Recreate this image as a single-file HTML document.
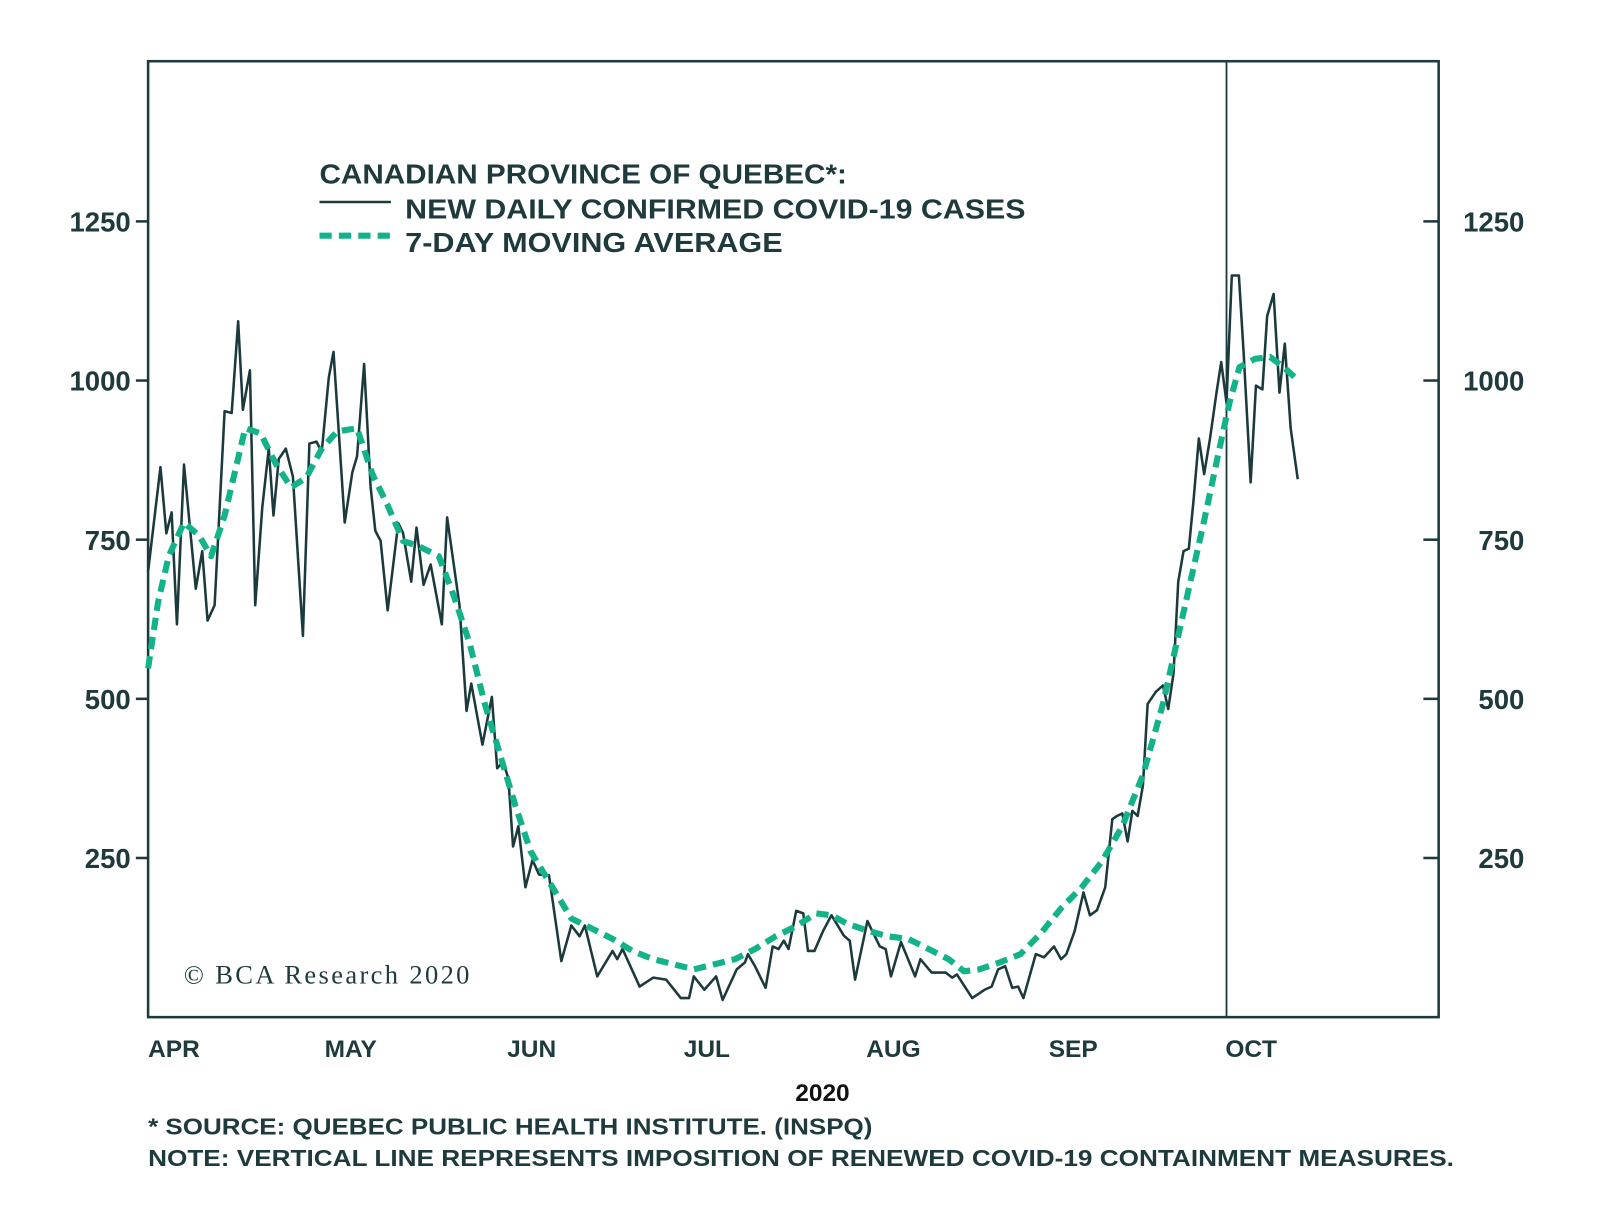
<!DOCTYPE html>
<html><head><meta charset="utf-8"><style>
html,body{margin:0;padding:0;background:#fff;overflow:hidden;}
svg{display:block;font-family:"Liberation Sans",sans-serif;position:absolute;left:0;top:0;}
.t{fill:#1e3a3c;font-weight:bold;}
</style></head><body>
<svg id="chart" width="1600" height="1212" viewBox="0 0 1568 1188"></svg>
<script>
const rawDays=[0,2.1,3.1,4.0,4.9,6.1,8.1,9.2,10.1,11.3,13.0,14.2,15.3,16.1,17.3,18.2,19.4,20.5,21.3,22.2,23.4,24.6,26.3,27.4,28.6,29.5,30.7,31.5,33.4,34.7,35.5,36.7,37.8,38.6,39.5,40.7,42.5,43.3,44.7,45.6,46.8,48.0,49.9,50.8,52.9,54.1,54.9,56.8,58.4,59.3,60.3,61.2,62.0,62.9,64.1,65.3,66.4,68.1,70.2,71.9,73.3,74.2,76.3,78.9,79.7,80.6,83.5,85.8,88.0,90.5,91.9,92.7,94.5,96.5,97.6,100.0,101.4,101.9,103.1,104.9,106.1,107.1,108.0,108.8,110.1,111.3,112.1,113.2,114.7,116.1,118.2,119.2,120.1,122.2,124.3,125.3,126.2,127.9,130.3,131.2,133.1,135.5,136.6,137.4,140.0,142.1,143.3,144.4,145.6,146.8,147.8,148.7,150.8,152.2,153.9,155.1,156.0,157.4,158.9,160.0,161.2,162.6,163.8,164.6,165.5,166.4,167.2,168.1,169.0,169.8,171.2,172.4,173.3,174.2,175.0,175.9,176.8,177.6,178.5,179.4,180.4,181.5,182.3,183.2,184.1,185.3,186.1,187.3,188.2,189.3,190.1,191.2,192.2,193.1,194.1,195.3];
const rawCases=[700,864,760,793,617,868,673,732,623,647,952,949,1093,954,1016,647,801,893,788,877,893,849,599,901,904,888,1005,1045,777,856,881,1026,833,764,748,639,776,761,684,769,679,711,617,785,647,481,524,428,503,391,401,375,268,300,204,247,224,223,88,144,127,144,64,104,91,107,48,62,59,30,30,64,43,64,27,75,86,99,80,46,111,107,120,107,167,163,104,104,136,160,128,120,59,151,111,107,64,118,64,91,70,70,62,67,30,43,48,75,80,46,48,30,99,94,111,91,99,135,196,160,168,204,311,316,320,276,324,316,364,492,511,521,484,540,684,732,736,812,909,853,909,981,1029,965,1165,1165,1045,840,992,986,1101,1136,981,1058,925,845];
const maDays=[0,1.7,3.5,6.1,8.7,10.7,13.0,16.5,19.1,21.7,24.3,26.9,29.5,32.1,35.5,38.1,40.7,43.3,45.9,49.4,52.0,54.6,57.2,59.8,62.4,65.0,68.5,71.9,75.4,78.9,82.3,85.8,89.3,92.7,96.2,99.7,103.1,106.6,110.1,113.5,116.1,118.7,122.2,125.6,129.1,132.6,136.0,138.6,141.2,144.7,148.2,151.6,155.1,158.6,162.0,165.5,169.0,172.4,175.9,179.4,182.0,183.7,185.4,188.0,190.6,192.9,195.3];
const maValues=[548,652,724,777,756,724,788,925,917,869,832,848,893,920,925,853,804,748,740,724,660,588,492,412,332,260,207,155,139,123,104,91,83,75,83,91,107,127,143,163,160,147,136,127,123,107,91,72,75,86,99,131,171,204,244,300,380,492,636,780,893,965,1021,1034,1037,1021,1001];
const yTicks=[250,500,750,1000,1250];
const monthLabels=["APR","MAY","JUN","JUL","AUG","SEP","OCT"];
const monthStarts=[0,30,61,91,122,153,183];
const eventDay=183.2;

const L=145,R=1410,T=60,B=997;
const xs=d=>L+d*5.77;
const ys=v=>B-v*0.624;
const svg=document.getElementById('chart');
const NS='http://www.w3.org/2000/svg';
function mk(tag,attrs,parent){const e=document.createElementNS(NS,tag);for(const k in attrs)e.setAttribute(k,attrs[k]);(parent||svg).appendChild(e);return e;}

const frame=mk('rect',{x:L,y:T,width:R-L,height:B-T,fill:'none',stroke:'#1e3a3c','stroke-width':2.5});



yTicks.forEach(v=>{
  const y=ys(v);
  const tl=mk('line',{x1:L-12,x2:L,y1:y,y2:y,stroke:'#1e3a3c','stroke-width':2.5});
  
  
  const tr=mk('line',{x1:R-15,x2:R,y1:y,y2:y,stroke:'#1e3a3c','stroke-width':2.5});
  
  
  const a=mk('text',{x:128,y:y+10,'text-anchor':'end','font-size':27,class:'t'});a.textContent=v;
  
  
  const b=mk('text',{x:1494,y:y+10,'text-anchor':'end','font-size':27,class:'t'});b.textContent=v;
  
  
});
monthLabels.forEach((m,i)=>{
  const t=mk('text',{x:xs(monthStarts[i]),y:1036,'font-size':24,class:'t'});t.textContent=m;
  
  
});
const vl=mk('line',{x1:xs(eventDay),x2:xs(eventDay),y1:T,y2:B,stroke:'#1e3a3c','stroke-width':1.8});



const rp=mk('polyline',{points:rawDays.map((d,i)=>xs(d)+','+ys(rawCases[i])).join(' '),fill:'none',stroke:'#1c3a3c','stroke-width':2.5,'stroke-linejoin':'round'});


const mp=mk('polyline',{points:maDays.map((d,i)=>xs(d)+','+ys(maValues[i])).join(' '),fill:'none',stroke:'#13b38a','stroke-width':6,'stroke-dasharray':'12 7','stroke-linejoin':'round'});


</script>
<svg width="1600" height="1212" viewBox="0 0 1568 1188">
<text x="313" y="180" font-size="27" fill="#1e3a3c" textLength="517" lengthAdjust="spacingAndGlyphs" style="font-weight:bold">CANADIAN PROVINCE OF QUEBEC*:</text>
<line x1="313" y1="198" x2="383" y2="198" stroke="#1c3a3c" stroke-width="2.5"/>
<text x="397" y="214" font-size="27" fill="#1e3a3c" textLength="608" lengthAdjust="spacingAndGlyphs" style="font-weight:bold">NEW DAILY CONFIRMED COVID-19 CASES</text>
<line x1="313" y1="231" x2="383" y2="231" stroke="#13b38a" stroke-width="6" stroke-dasharray="12 7"/>
<text x="397" y="247" font-size="27" fill="#1e3a3c" textLength="370" lengthAdjust="spacingAndGlyphs" style="font-weight:bold">7-DAY MOVING AVERAGE</text>
<text x="180" y="964" font-size="26" fill="#1e3a3c" textLength="280" style="font-family:'Liberation Serif',serif">© BCA Research 2020</text>
<text x="806" y="1079" font-size="24" text-anchor="middle" fill="#111" style="font-weight:bold">2020</text>
<text x="145" y="1112" font-size="23" fill="#1e3a3c" textLength="710" lengthAdjust="spacingAndGlyphs" style="font-weight:bold">* SOURCE: QUEBEC PUBLIC HEALTH INSTITUTE. (INSPQ)</text>
<text x="145" y="1143" font-size="23" fill="#1e3a3c" textLength="1280" lengthAdjust="spacingAndGlyphs" style="font-weight:bold">NOTE: VERTICAL LINE REPRESENTS IMPOSITION OF RENEWED COVID-19 CONTAINMENT MEASURES.</text>
</svg>
</body></html>
